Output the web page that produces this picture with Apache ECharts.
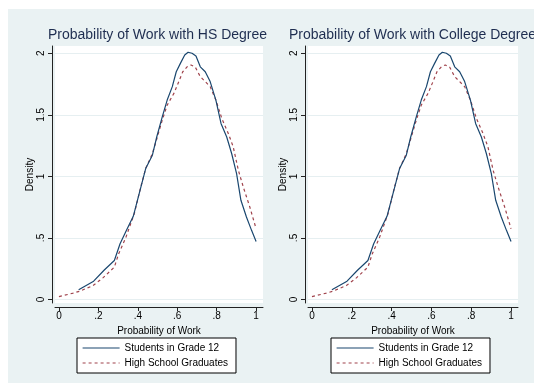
<!DOCTYPE html>
<html>
<head>
<meta charset="utf-8">
<script src="https://cdn.jsdelivr.net/npm/echarts@6/dist/echarts.min.js"></script>
<style>html,body{margin:0;padding:0;background:#fff;}#c{width:534px;height:385px;}</style>
</head>
<body>
<div id="c"></div>
<script>
// ---- data ----
var panelTitles = ["Probability of Work with HS Degree", "Probability of Work with College Degree"];
var seriesNames = ["Students in Grade 12", "High School Graduates"];
var xTitle = "Probability of Work";
var yTitle = "Density";
var xTicks = [0, 0.2, 0.4, 0.6, 0.8, 1];
var xTickLabels = ["0", ".2", ".4", ".6", ".8", "1"];
var yTicks = [0, 0.5, 1, 1.5, 2];
var yTickLabels = ["0", ".5", "1", "1.5", "2"];

var grade12X = [0.100,0.176,0.230,0.281,0.310,0.345,0.377,0.407,0.440,0.474,0.496,0.524,0.549,0.575,0.595,0.616,0.638,0.655,0.675,0.695,0.717,0.742,0.767,0.796,0.822,0.851,0.876,0.901,0.923,0.951,0.977,1.000];
var grade12Y = [0.079,0.149,0.240,0.317,0.453,0.570,0.676,0.860,1.064,1.172,1.320,1.484,1.620,1.729,1.850,1.918,1.986,2.008,2.000,1.978,1.890,1.850,1.770,1.620,1.430,1.320,1.186,1.023,0.806,0.670,0.562,0.472];

var gradX = [0.000,0.072,0.106,0.173,0.223,0.281,0.303,0.340,0.382,0.415,0.440,0.474,0.499,0.524,0.549,0.583,0.608,0.628,0.650,0.670,0.692,0.717,0.742,0.767,0.796,0.826,0.859,0.884,0.910,0.935,0.968,1.000];
var gradY = [0.024,0.052,0.068,0.114,0.176,0.263,0.372,0.507,0.697,0.914,1.064,1.186,1.320,1.457,1.579,1.674,1.770,1.850,1.890,1.905,1.886,1.810,1.770,1.729,1.620,1.471,1.349,1.240,1.050,0.914,0.752,0.575];

function pairs(xs, ys){ return xs.map(function(x,i){ return [x, ys[i]]; }); }

var FONT = "Liberation Sans, Arial, sans-serif";
var NAVY = "#1a476f", MAROON = "#a0434c", TITLE = "#1e2d50";

function labelFor(ticks, labels){
  return function(v){
    for (var i=0;i<ticks.length;i++){ if (Math.abs(ticks[i]-v) < 1e-6) return labels[i]; }
    return "";
  };
}

var panels = [{left:55, width:208, legendLeft:77, titleX:157.5}, {left:308, width:210, legendLeft:331, titleX:412.5}];

var grids=[], xAxes=[], yAxes=[], series=[], legends=[];
var graphics = [{type:"rect", shape:{x:8, y:9, width:526, height:374}, style:{fill:"#eaf2f3"}, z:-10, silent:true}];
panels.forEach(function(p, k){
  grids.push({left:p.left, width:p.width, top:46, height:257, show:true, backgroundColor:"#ffffff", borderWidth:0});
  graphics.push({type:"text", x:p.titleX, y:35, silent:true, z:10,
    style:{text:panelTitles[k], textAlign:"center", textVerticalAlign:"middle",
      font:"14px " + FONT, fill:TITLE}});
  xAxes.push({type:"value", gridIndex:k, min:-0.02, max:1.035, offset:4,
    name:xTitle, nameLocation:"middle", nameGap:16,
    nameTextStyle:{fontFamily:FONT, fontSize:10, color:"#000"},
    axisLine:{show:true, onZero:false, lineStyle:{color:"#222", width:1}},
    axisTick:{show:true, length:4, customValues:xTicks, lineStyle:{color:"#222"}},
    axisLabel:{customValues:xTicks, formatter:labelFor(xTicks,xTickLabels), margin:4,
      fontFamily:FONT, fontSize:10, color:"#000"},
    splitLine:{show:false}});
  yAxes.push({type:"value", gridIndex:k, min:-0.028, max:2.059, offset:3,
    name:yTitle, nameLocation:"middle", nameGap:16, nameRotate:90,
    nameTextStyle:{fontFamily:FONT, fontSize:10, color:"#000"},
    axisLine:{show:true, onZero:false, lineStyle:{color:"#222", width:1}},
    axisTick:{show:true, length:4, customValues:yTicks, lineStyle:{color:"#222"}},
    axisLabel:{customValues:yTicks, formatter:labelFor(yTicks,yTickLabels), margin:6, rotate:90,
      fontFamily:FONT, fontSize:10, color:"#000"},
    splitLine:{show:true, lineStyle:{color:"#e6eff1", width:1}}});
  series.push({type:"line", name:seriesNames[0], xAxisIndex:k, yAxisIndex:k, data:pairs(grade12X, grade12Y),
    showSymbol:false, symbol:"none", lineStyle:{color:NAVY, width:1.2}, itemStyle:{color:NAVY}, animation:false, z:3});
  series.push({type:"line", name:seriesNames[1], xAxisIndex:k, yAxisIndex:k, data:pairs(gradX, gradY),
    showSymbol:false, symbol:"none", lineStyle:{color:MAROON, width:1.2, type:[3,3]}, itemStyle:{color:MAROON}, animation:false, z:2});
  legends.push({data:seriesNames, orient:"vertical", left:p.legendLeft, top:338,
    backgroundColor:"#fff", borderColor:"#000", borderWidth:1, padding:[5,8,5,5],
    itemWidth:37, itemHeight:10, itemGap:5, selectedMode:false,
    itemStyle:{color:"rgba(0,0,0,0)", borderColor:"rgba(0,0,0,0)", borderWidth:0, opacity:0},
    lineStyle:{width:1.2},
    textStyle:{fontFamily:FONT, fontSize:10, color:"#000"}});
});

var chart = echarts.init(document.getElementById("c"), null, {renderer:"canvas"});
chart.setOption({
  backgroundColor:"#ffffff",
  animation:false,
  graphic:graphics, grid:grids, xAxis:xAxes, yAxis:yAxes, legend:legends, series:series
});
</script>
</body>
</html>
